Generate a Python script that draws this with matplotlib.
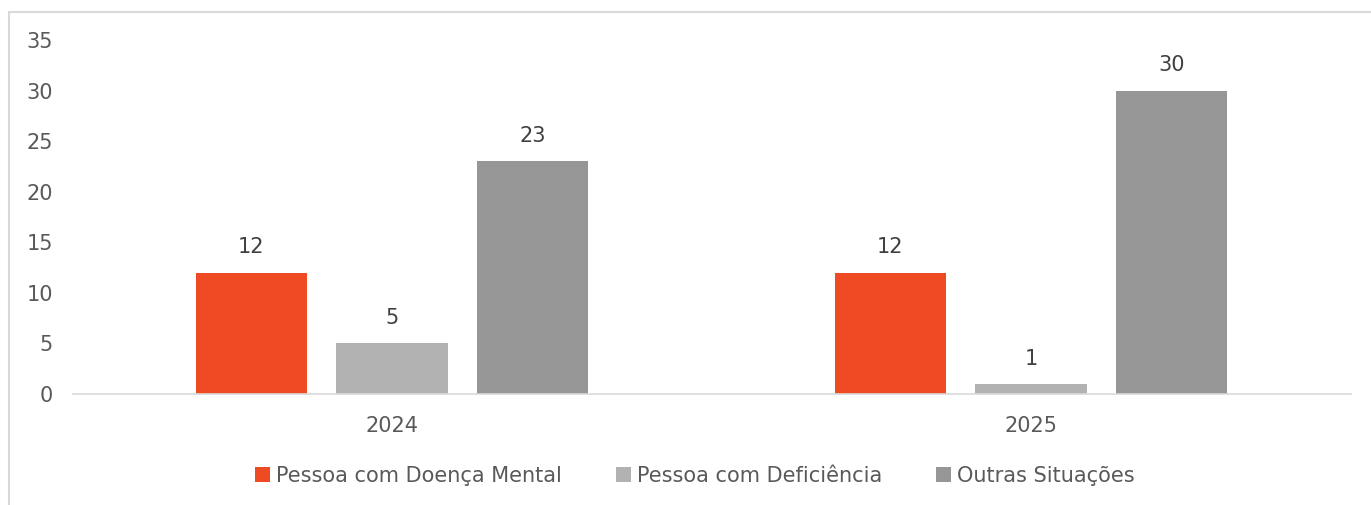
import matplotlib
matplotlib.use("Agg")
import matplotlib.pyplot as plt
import numpy as np
from matplotlib.patches import Rectangle

# Data
years = ["2024", "2025"]
series_names = ["Pessoa com Doença Mental", "Pessoa com Deficiência", "Outras Situações"]
doenca_mental = [12, 12]
deficiencia = [5, 1]
outras = [23, 30]
colors = ["#EE4A24", "#B2B2B2", "#969696"]

plt.rcParams["font.family"] = ["DejaVu Sans"]

fig = plt.figure(figsize=(13.71, 5.05), dpi=100)
ax = fig.add_axes([72.5 / 1371, 1 - 394 / 505, (1350.5 - 72.5) / 1371, (394 - 40) / 505])

# Outer frame (top and left visible)
fig.patches.append(Rectangle((9 / 1371, -0.1), 1.2, (505 - 12) / 505 + 0.1,
                             transform=fig.transFigure, fill=False,
                             edgecolor="#D9D9D9", linewidth=1.5))

x = np.arange(len(years))
offset = 0.22
width = 0.175
all_series = [doenca_mental, deficiencia, outras]
for i, (vals, name, c) in enumerate(zip(all_series, series_names, colors)):
    bars = ax.bar(x + (i - 1) * offset, vals, width, color=c, label=name)
    for b, v in zip(bars, vals):
        ax.annotate(str(v), (b.get_x() + b.get_width() / 2, v),
                    xytext=(0, 11), textcoords="offset points",
                    ha="center", va="bottom", fontsize=15, color="#404040")

ax.set_xlim(-0.5, 1.5)
ax.set_ylim(0, 35)
ax.set_yticks(range(0, 36, 5))
ax.set_xticks(x)
ax.set_xticklabels(years)
ax.tick_params(axis="both", length=0, labelsize=15, labelcolor="#595959")
ax.tick_params(axis="y", pad=14)
ax.tick_params(axis="x", pad=16)
for s in ["top", "right", "left"]:
    ax.spines[s].set_visible(False)
ax.spines["bottom"].set_color("#D9D9D9")
ax.spines["bottom"].set_linewidth(1.2)

leg = fig.legend(loc="center", bbox_to_anchor=(695 / 1371, 1 - 476 / 505), ncol=3,
                 frameon=False, fontsize=15, handlelength=0.7, handleheight=0.7,
                 handletextpad=0.3, columnspacing=2.6)
for t in leg.get_texts():
    t.set_color("#595959")

fig.savefig("out.png", dpi=100)
